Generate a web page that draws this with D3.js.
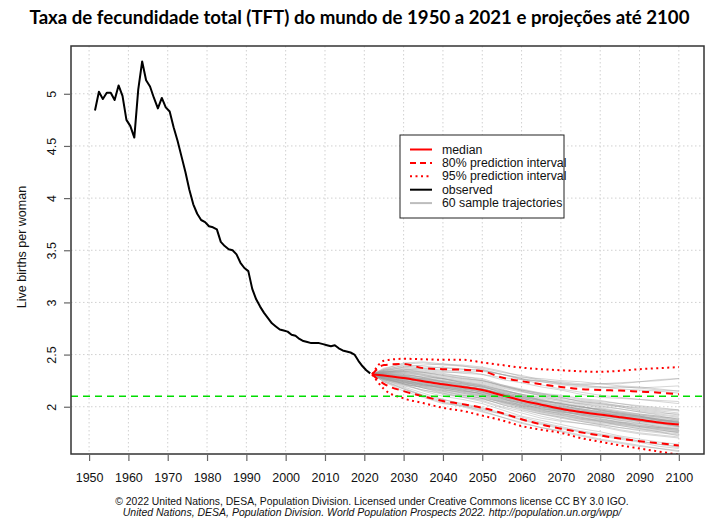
<!DOCTYPE html>
<html><head><meta charset="utf-8">
<script src="https://cdn.jsdelivr.net/npm/d3@7/dist/d3.min.js"></script>
<style>
html,body{margin:0;padding:0;background:#fff;}
svg{display:block;}
</style></head>
<body>
<svg id="chart" width="709" height="524"></svg>
<script>
// ---------------- DATA ----------------
const titleText = "Taxa de fecundidade total (TFT) do mundo de 1950 a 2021 e projeções até 2100";
const yAxisTitle = "Live births per woman";
const footer1 = "© 2022 United Nations, DESA, Population Division. Licensed under Creative Commons license CC BY 3.0 IGO.";
const footer2 = "United Nations, DESA, Population Division. World Population Prospects 2022. http://population.un.org/wpp/";

const xTicks = [1950,1960,1970,1980,1990,2000,2010,2020,2030,2040,2050,2060,2070,2080,2090,2100];
const yTicks = [2,2.5,3,3.5,4,4.5,5];
const replacementLevel = 2.1;

const obsYears = [1951,1952,1953,1954,1955,1956,1957,1958,1959,1960,
  1961,1962,1963,1964,1965,1966,1967,1968,1969,1970,
  1971,1972,1973,1974,1975,1976,1977,1978,1979,1980,
  1981,1982,1983,1984,1985,1986,1987,1988,1989,1990,
  1991,1992,1993,1994,1995,1996,1997,1998,1999,2000,
  2001,2002,2003,2004,2005,2006,2007,2008,2009,2010,
  2011,2012,2013,2014,2015,2016,2017,2018,2019,2020,2021];
const obsTFR = [4.84,5.02,4.95,5.01,5.01,4.94,5.08,4.98,4.75,4.69,
  4.58,5.04,5.31,5.13,5.07,4.96,4.86,4.96,4.87,4.83,
  4.68,4.55,4.40,4.25,4.08,3.94,3.85,3.79,3.77,3.73,
  3.72,3.70,3.58,3.54,3.51,3.50,3.46,3.38,3.33,3.30,
  3.13,3.03,2.96,2.90,2.85,2.80,2.77,2.74,2.73,2.72,
  2.69,2.68,2.65,2.63,2.62,2.61,2.61,2.61,2.60,2.59,
  2.58,2.59,2.56,2.54,2.53,2.52,2.50,2.44,2.39,2.35,2.32];

const projYears = [2022,2025,2030,2035,2040,2045,2050,2055,2060,2065,2070,2075,2080,2085,2090,2095,2100];
const median = [2.31,2.30,2.275,2.245,2.215,2.19,2.16,2.11,2.06,2.02,1.98,1.95,1.925,1.90,1.875,1.85,1.83];
const hi80   = [2.31,2.40,2.41,2.37,2.36,2.355,2.34,2.28,2.245,2.215,2.19,2.17,2.16,2.155,2.145,2.135,2.12];
const lo80   = [2.31,2.22,2.15,2.10,2.055,2.025,1.99,1.94,1.88,1.83,1.79,1.755,1.725,1.695,1.67,1.65,1.628];
const hi95   = [2.31,2.44,2.46,2.455,2.45,2.45,2.425,2.40,2.375,2.36,2.35,2.34,2.335,2.345,2.36,2.37,2.38];
const lo95   = [2.31,2.17,2.08,2.035,1.99,1.96,1.915,1.87,1.815,1.78,1.75,1.70,1.665,1.63,1.60,1.57,1.54];

// 60 sample trajectories, values at projYears
const trajectories = [
"2.31 2.33 2.36 2.33 2.30 2.28 2.25 2.20 2.16 2.12 2.10 2.07 2.05 2.03 2.01 1.99 1.97",
"2.31 2.27 2.22 2.18 2.15 2.11 2.08 2.02 1.98 1.93 1.90 1.86 1.83 1.80 1.78 1.76 1.74",
"2.31 2.30 2.28 2.25 2.22 2.20 2.17 2.12 2.07 2.02 1.99 1.96 1.94 1.92 1.90 1.88 1.86",
"2.31 2.35 2.40 2.39 2.37 2.36 2.35 2.31 2.27 2.24 2.21 2.19 2.18 2.19 2.18 2.16 2.15",
"2.31 2.25 2.17 2.10 2.04 2.00 1.95 1.90 1.85 1.80 1.76 1.72 1.68 1.65 1.62 1.60 1.58",
"2.31 2.29 2.26 2.27 2.24 2.22 2.19 2.15 2.12 2.06 2.02 2.00 1.97 1.93 1.91 1.88 1.85",
"2.31 2.32 2.31 2.28 2.27 2.23 2.20 2.13 2.09 2.05 2.04 2.01 1.96 1.94 1.91 1.87 1.84",
"2.31 2.28 2.24 2.20 2.19 2.16 2.12 2.08 2.01 1.97 1.93 1.91 1.88 1.86 1.82 1.80 1.79",
"2.31 2.36 2.42 2.43 2.41 2.40 2.38 2.34 2.29 2.25 2.24 2.22 2.22 2.20 2.19 2.17 2.15",
"2.31 2.24 2.15 2.09 2.03 2.01 1.97 1.93 1.88 1.84 1.80 1.76 1.72 1.69 1.66 1.62 1.60",
"2.31 2.31 2.29 2.26 2.24 2.21 2.19 2.14 2.10 2.07 2.03 1.99 1.98 1.95 1.92 1.90 1.87",
"2.31 2.30 2.27 2.23 2.20 2.18 2.15 2.09 2.04 2.00 1.96 1.93 1.91 1.89 1.86 1.83 1.81",
"2.31 2.34 2.34 2.31 2.27 2.25 2.23 2.18 2.14 2.11 2.07 2.04 2.02 2.00 1.96 1.94 1.93",
"2.31 2.26 2.21 2.19 2.16 2.14 2.10 2.05 2.00 1.96 1.94 1.90 1.87 1.85 1.84 1.81 1.78",
"2.31 2.33 2.35 2.37 2.38 2.36 2.35 2.31 2.26 2.24 2.22 2.21 2.22 2.23 2.24 2.26 2.27",
"2.31 2.28 2.25 2.22 2.17 2.13 2.09 2.04 2.01 1.99 1.95 1.92 1.89 1.85 1.81 1.79 1.77",
"2.31 2.30 2.29 2.27 2.25 2.22 2.18 2.12 2.08 2.04 2.00 1.98 1.95 1.91 1.88 1.86 1.84",
"2.31 2.32 2.30 2.26 2.22 2.19 2.17 2.13 2.09 2.03 1.98 1.94 1.92 1.90 1.87 1.85 1.82",
"2.31 2.27 2.23 2.21 2.20 2.18 2.14 2.08 2.03 1.98 1.95 1.93 1.90 1.87 1.84 1.81 1.79",
"2.31 2.34 2.38 2.36 2.34 2.32 2.31 2.28 2.26 2.25 2.23 2.21 2.19 2.17 2.16 2.15 2.13",
"2.31 2.29 2.24 2.18 2.14 2.11 2.08 2.05 2.02 1.98 1.94 1.90 1.86 1.84 1.82 1.80 1.78",
"2.31 2.31 2.30 2.29 2.27 2.24 2.22 2.17 2.11 2.06 2.02 1.97 1.95 1.93 1.90 1.88 1.85",
"2.31 2.26 2.19 2.13 2.07 2.02 1.98 1.93 1.87 1.83 1.79 1.76 1.73 1.70 1.67 1.64 1.62",
"2.31 2.33 2.33 2.30 2.26 2.24 2.21 2.16 2.12 2.08 2.05 2.03 2.00 1.98 1.95 1.92 1.90",
"2.31 2.29 2.27 2.24 2.21 2.18 2.15 2.10 2.05 2.01 1.97 1.94 1.92 1.89 1.87 1.84 1.82",
"2.31 2.35 2.38 2.40 2.41 2.39 2.36 2.31 2.27 2.21 2.17 2.14 2.11 2.09 2.07 2.05 2.03",
"2.31 2.27 2.22 2.18 2.13 2.09 2.05 1.99 1.94 1.89 1.86 1.84 1.81 1.77 1.74 1.72 1.70",
"2.31 2.30 2.29 2.25 2.21 2.19 2.17 2.12 2.06 2.02 1.99 1.97 1.93 1.91 1.89 1.87 1.85",
"2.31 2.32 2.33 2.31 2.28 2.26 2.24 2.19 2.15 2.10 2.06 2.03 2.01 1.98 1.95 1.93 1.91",
"2.31 2.28 2.24 2.22 2.19 2.17 2.14 2.08 2.03 1.99 1.95 1.92 1.88 1.85 1.83 1.80 1.77",
"2.31 2.30 2.26 2.21 2.18 2.15 2.13 2.07 2.04 2.00 1.97 1.95 1.92 1.89 1.87 1.84 1.83",
"2.31 2.34 2.36 2.34 2.32 2.29 2.26 2.20 2.16 2.12 2.09 2.05 2.03 2.01 1.98 1.96 1.94",
"2.31 2.25 2.18 2.11 2.05 2.01 1.96 1.90 1.84 1.80 1.77 1.73 1.69 1.66 1.63 1.60 1.57",
"2.31 2.31 2.32 2.30 2.27 2.23 2.21 2.16 2.12 2.09 2.06 2.02 1.99 1.96 1.93 1.91 1.88",
"2.31 2.29 2.28 2.26 2.23 2.20 2.16 2.11 2.06 2.03 1.99 1.96 1.94 1.92 1.90 1.87 1.86",
"2.31 2.37 2.41 2.42 2.40 2.39 2.37 2.33 2.30 2.26 2.22 2.20 2.19 2.19 2.18 2.19 2.20",
"2.31 2.27 2.21 2.16 2.13 2.10 2.06 2.00 1.96 1.91 1.87 1.84 1.82 1.78 1.75 1.73 1.71",
"2.31 2.30 2.27 2.24 2.22 2.20 2.17 2.13 2.08 2.03 2.00 1.97 1.94 1.91 1.88 1.85 1.83",
"2.31 2.33 2.32 2.28 2.24 2.20 2.17 2.12 2.09 2.06 2.03 2.00 1.97 1.94 1.92 1.90 1.89",
"2.31 2.28 2.23 2.20 2.17 2.14 2.11 2.06 2.02 1.97 1.93 1.89 1.86 1.83 1.80 1.78 1.75",
"2.31 2.32 2.34 2.33 2.31 2.29 2.27 2.21 2.17 2.13 2.09 2.05 2.03 2.00 1.97 1.95 1.92",
"2.31 2.26 2.20 2.16 2.12 2.09 2.07 2.03 1.99 1.94 1.90 1.87 1.84 1.82 1.79 1.77 1.76",
"2.31 2.31 2.29 2.25 2.23 2.21 2.19 2.14 2.10 2.05 2.01 1.98 1.96 1.93 1.91 1.89 1.87",
"2.31 2.29 2.25 2.23 2.20 2.16 2.12 2.07 2.03 1.98 1.96 1.93 1.90 1.88 1.86 1.84 1.81",
"2.31 2.35 2.37 2.35 2.33 2.33 2.34 2.31 2.28 2.27 2.25 2.24 2.22 2.22 2.24 2.25 2.27",
"2.31 2.27 2.22 2.19 2.15 2.12 2.08 2.02 1.97 1.93 1.89 1.86 1.83 1.80 1.77 1.75 1.73",
"2.31 2.30 2.28 2.25 2.22 2.19 2.16 2.12 2.08 2.04 2.01 1.98 1.95 1.92 1.89 1.87 1.85",
"2.31 2.32 2.31 2.28 2.25 2.23 2.20 2.15 2.10 2.06 2.03 2.00 1.98 1.95 1.93 1.91 1.88",
"2.31 2.24 2.17 2.11 2.07 2.03 1.99 1.94 1.90 1.85 1.81 1.77 1.74 1.71 1.67 1.64 1.61",
"2.31 2.29 2.25 2.22 2.18 2.15 2.13 2.09 2.05 2.00 1.96 1.92 1.90 1.87 1.85 1.82 1.80",
"2.31 2.33 2.35 2.33 2.30 2.27 2.25 2.20 2.15 2.11 2.08 2.06 2.04 2.01 1.99 1.97 1.96",
"2.31 2.28 2.25 2.21 2.18 2.16 2.12 2.06 2.01 1.96 1.92 1.89 1.87 1.84 1.81 1.79 1.76",
"2.31 2.31 2.30 2.27 2.24 2.22 2.20 2.16 2.11 2.07 2.03 2.00 1.97 1.94 1.91 1.88 1.86",
"2.31 2.26 2.23 2.20 2.16 2.13 2.10 2.04 1.99 1.95 1.91 1.88 1.85 1.83 1.81 1.78 1.75",
"2.31 2.36 2.39 2.37 2.35 2.34 2.31 2.26 2.23 2.19 2.16 2.12 2.09 2.08 2.07 2.06 2.05",
"2.31 2.29 2.26 2.23 2.19 2.17 2.14 2.10 2.06 2.01 1.97 1.94 1.91 1.89 1.86 1.84 1.81",
"2.31 2.30 2.27 2.24 2.21 2.17 2.14 2.09 2.04 2.00 1.97 1.95 1.92 1.90 1.88 1.86 1.84",
"2.31 2.27 2.24 2.21 2.18 2.15 2.11 2.05 2.00 1.95 1.92 1.88 1.86 1.82 1.79 1.76 1.72",
"2.31 2.34 2.34 2.32 2.29 2.27 2.25 2.21 2.16 2.13 2.11 2.08 2.06 2.03 2.00 1.98 1.97",
"2.31 2.28 2.22 2.15 2.10 2.07 2.03 1.97 1.91 1.87 1.83 1.79 1.76 1.72 1.69 1.66 1.64"
];

const legendLabels = ["median","80% prediction interval","95% prediction interval","observed","60 sample trajectories"];

// ---------------- LAYOUT ----------------
const W = 709, H = 524;
const plot = {left: 71, right: 704, top: 46, bottom: 454};
const svg = d3.select("#chart");
const FONT = "'Liberation Sans', Arial, Helvetica, sans-serif";

const x = d3.scaleLinear().domain([1945.4, 2106.4]).range([plot.left, plot.right]);
const y = d3.scaleLinear().domain([1.547, 5.458]).range([plot.bottom, plot.top]);

const clipId = "plotclip";
svg.append("defs").append("clipPath").attr("id", clipId)
  .append("rect").attr("x", plot.left).attr("y", plot.top)
  .attr("width", plot.right - plot.left).attr("height", plot.bottom - plot.top);

// grid
const grid = svg.append("g").attr("stroke", "#d0d0d0").attr("stroke-width", 1).attr("stroke-dasharray", "1.5,2.5");
grid.selectAll(".gx").data(xTicks).join("line")
  .attr("x1", d => x(d)).attr("x2", d => x(d)).attr("y1", plot.top).attr("y2", plot.bottom);
grid.selectAll(".gy").data(yTicks).join("line")
  .attr("y1", d => y(d)).attr("y2", d => y(d)).attr("x1", plot.left).attr("x2", plot.right);

const gPlot = svg.append("g").attr("clip-path", `url(#${clipId})`);

// sample trajectories
const trajLine = d3.line().x((d, i) => x(projYears[i])).y(d => y(d));
const trajData = trajectories.map(s => s.split(" ").map(Number));
gPlot.append("g").selectAll("path").data(trajData).join("path")
  .attr("d", trajLine).attr("fill", "none")
  .attr("stroke", "#999").attr("stroke-opacity", 0.5).attr("stroke-width", 0.8);

// prediction intervals
const bandLine = d3.line().x((d, i) => x(projYears[i])).y(d => y(d)).curve(d3.curveMonotoneX);
[[hi95, "2,3.5"], [lo95, "2,3.5"], [hi80, "7,5"], [lo80, "7,5"]].forEach(([arr, dash]) => {
  gPlot.append("path").attr("d", bandLine(arr)).attr("fill", "none")
    .attr("stroke", "#ff0000").attr("stroke-width", 2).attr("stroke-dasharray", dash);
});
gPlot.append("path").attr("d", bandLine(median)).attr("fill", "none")
  .attr("stroke", "#ff0000").attr("stroke-width", 2);

// observed (mid-year positions)
const obsLine = d3.line().x((d, i) => x(obsYears[i] + 0.5)).y(d => y(d));
gPlot.append("path").attr("d", obsLine(obsTFR)).attr("fill", "none")
  .attr("stroke", "#000").attr("stroke-width", 2).attr("stroke-linejoin", "round");

// replacement level
gPlot.append("line").attr("x1", plot.left).attr("x2", plot.right)
  .attr("y1", y(replacementLevel)).attr("y2", y(replacementLevel))
  .attr("stroke", "#00dd00").attr("stroke-width", 1.6).attr("stroke-dasharray", "7,5");

// frame
svg.append("rect").attr("x", plot.left).attr("y", plot.top)
  .attr("width", plot.right - plot.left).attr("height", plot.bottom - plot.top)
  .attr("fill", "none").attr("stroke", "#333").attr("stroke-width", 1.5);

// axes
const xAxis = svg.append("g").attr("transform", `translate(0,${plot.bottom})`)
  .call(d3.axisBottom(x).tickValues(xTicks).tickSize(7).tickPadding(12).tickFormat(d3.format("d")));
xAxis.select(".domain").remove();
xAxis.selectAll("line").attr("stroke", "#666").attr("stroke-width", 1.2);
xAxis.selectAll("text").attr("font-family", FONT).attr("font-size", 12.5).attr("fill", "#111");

const yAxis = svg.append("g").attr("transform", `translate(${plot.left},0)`)
  .call(d3.axisLeft(y).tickValues(yTicks).tickSize(7).tickFormat(d => String(d)));
yAxis.select(".domain").remove();
yAxis.selectAll("line").attr("stroke", "#666").attr("stroke-width", 1.2);
yAxis.selectAll("text")
  .attr("font-family", FONT).attr("font-size", 12.5).attr("fill", "#111")
  .attr("text-anchor", "middle").attr("dy", null).attr("x", null)
  .attr("transform", "translate(-19,0) rotate(-90)")
  .attr("dominant-baseline", "central");

// y axis title
svg.append("text").attr("transform", `translate(22,${(plot.top + plot.bottom) / 2 - 3}) rotate(-90)`)
  .attr("text-anchor", "middle").attr("dominant-baseline", "central")
  .attr("font-family", FONT).attr("font-size", 12.5).attr("fill", "#111").text(yAxisTitle);

// title
const title = svg.append("text").attr("x", W / 2 + 5).attr("y", 24).attr("text-anchor", "middle")
  .attr("font-family", "Lato, 'Open Sans', sans-serif").attr("font-weight", "bold")
  .attr("font-size", 18).attr("fill", "#000").text(titleText);
const tw = title.node().getComputedTextLength();
title.attr("font-size", 18 * 660 / tw);

// footer
svg.append("text").attr("x", 372).attr("y", 505).attr("text-anchor", "middle")
  .attr("font-family", FONT).attr("font-size", 10.4).attr("fill", "#111").text(footer1);
svg.append("text").attr("x", 372).attr("y", 516).attr("text-anchor", "middle")
  .attr("font-family", FONT).attr("font-size", 10.5).attr("font-style", "italic").attr("fill", "#111").text(footer2);

// legend
const legendStyles = [
  {stroke: "#ff0000", dash: null, w: 2},
  {stroke: "#ff0000", dash: "6,4", w: 2},
  {stroke: "#ff0000", dash: "2,3.5", w: 2},
  {stroke: "#000", dash: null, w: 2},
  {stroke: "#bdbdbd", dash: null, w: 2}
];
const lg = svg.append("g");
lg.append("rect").attr("x", 400).attr("y", 135).attr("width", 164).attr("height", 83)
  .attr("fill", "#fff").attr("stroke", "#222").attr("stroke-width", 1);
const rows = lg.selectAll("g.row").data(legendLabels).join("g")
  .attr("transform", (d, i) => `translate(0,${149.5 + i * 13.4})`);
rows.append("line").attr("x1", 410).attr("x2", 432).attr("y1", 0).attr("y2", 0)
  .attr("stroke", (d, i) => legendStyles[i].stroke)
  .attr("stroke-width", (d, i) => legendStyles[i].w)
  .attr("stroke-dasharray", (d, i) => legendStyles[i].dash);
rows.append("text").attr("x", 442).attr("y", 0).attr("dominant-baseline", "central")
  .attr("font-family", FONT).attr("font-size", 12.3).attr("fill", "#111").text(d => d);
</script>
</body></html>
